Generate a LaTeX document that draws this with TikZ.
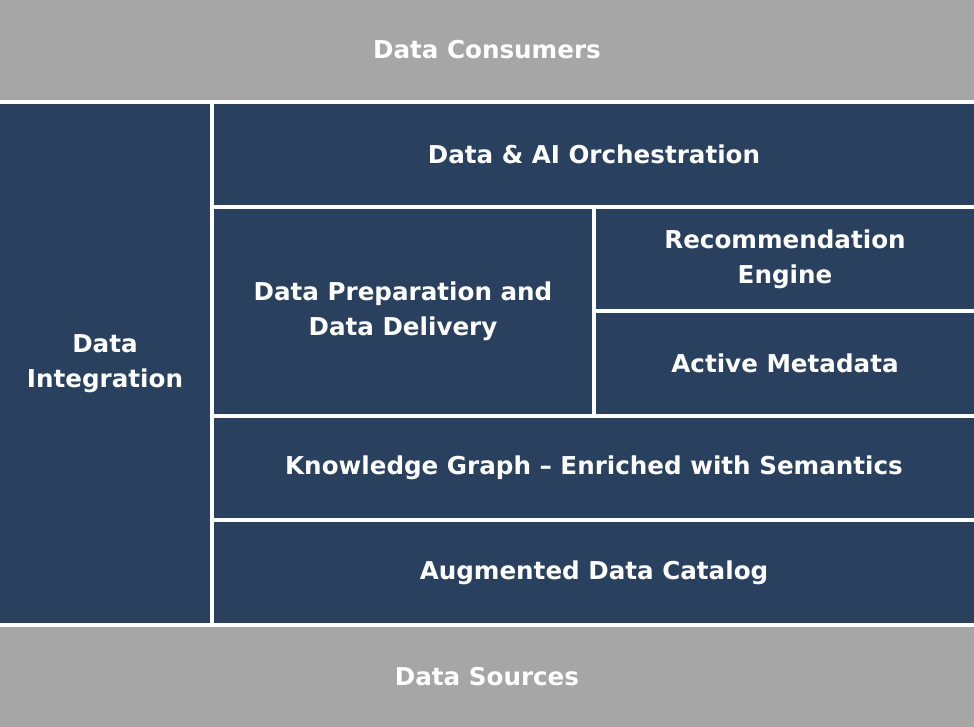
\documentclass[tikz,border=0pt]{standalone}
\usepackage{fontspec}
\setmainfont{DejaVu Sans}[UprightFont={* Bold}]
\definecolor{bandgray}{HTML}{A6A6A6}
\definecolor{boxblue}{HTML}{29415F}
\begin{document}
\begin{tikzpicture}[x=1pt,y=1pt,
  box/.style={fill=boxblue, draw=none, inner sep=0pt, text=white, align=center,
    font=\fontsize{24.6}{35}\selectfont},
  band/.style={box, fill=bandgray}]
\fill[white] (0,0) rectangle (974,727);
\useasboundingbox (0,0) rectangle (974,727);
\node[band, minimum width=974, minimum height=100] (cons) at (487,677) {Data Consumers};
\node[box, minimum width=210, minimum height=519] (integ) at (105,363.5) {Data\\Integration};
\node[box, minimum width=760, minimum height=101] (orch) at (594,572.5) {Data \& AI Orchestration};
\node[box, minimum width=378, minimum height=205] (prep) at (403,415.5) {Data Preparation and\\Data Delivery};
\node[box, minimum width=378, minimum height=100] (rec) at (785,468) {Recommendation\\Engine};
\node[box, minimum width=378, minimum height=101] (meta) at (785,363.5) {Active Metadata};
\node[box, minimum width=760, minimum height=100] (kg) at (594,259) {Knowledge Graph – Enriched with Semantics};
\node[box, minimum width=760, minimum height=101] (aug) at (594,154.5) {Augmented Data Catalog};
\node[band, minimum width=974, minimum height=100] (src) at (487,50) {Data Sources};
\end{tikzpicture}
\end{document}
